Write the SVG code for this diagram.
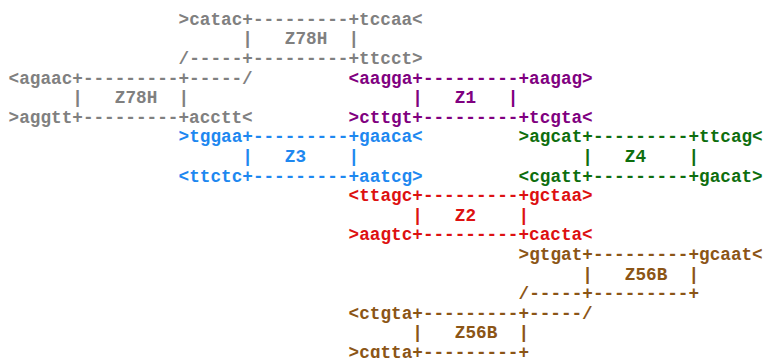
<svg xmlns="http://www.w3.org/2000/svg" width="767" height="358" viewBox="0 0 767 358">
<style>
text{font-family:"Liberation Mono","Courier New",monospace;font-size:17.7px;font-weight:bold;white-space:pre}
.gy{fill:#808080}.pu{fill:#800080}.bl{fill:#1e88f0}.gr{fill:#0e6e0e}.rd{fill:#dd1111}.br{fill:#8b5516}
</style>
<rect width="767" height="358" fill="#ffffff"/>
<g id="connectors"></g>
<g id="Z78H_top" class="gy">
<text xml:space="preserve" x="178.6" y="24.8">&gt;catac+---------+tccaa&lt;</text>
<text xml:space="preserve" x="242.35" y="44.4">|   Z78H  |</text>
<text xml:space="preserve" x="178.6" y="64">/-----+---------+ttcct&gt;</text>
</g>
<g id="Z78H_bottom" class="gy">
<text xml:space="preserve" x="8.6" y="83.6">&lt;agaac+---------+-----/</text>
<text xml:space="preserve" x="72.35" y="103.2">|   Z78H  |</text>
<text xml:space="preserve" x="8.6" y="122.8">&gt;aggtt+---------+acctt&lt;</text>
</g>
<g id="Z1" class="pu">
<text xml:space="preserve" x="348.6" y="83.6">&lt;aagga+---------+aagag&gt;</text>
<text xml:space="preserve" x="412.35" y="103.2">|   Z1   |</text>
<text xml:space="preserve" x="348.6" y="122.8">&gt;cttgt+---------+tcgta&lt;</text>
</g>
<g id="Z3" class="bl">
<text xml:space="preserve" x="178.6" y="142.4">&gt;tggaa+---------+gaaca&lt;</text>
<text xml:space="preserve" x="242.35" y="162">|   Z3    |</text>
<text xml:space="preserve" x="178.6" y="181.6">&lt;ttctc+---------+aatcg&gt;</text>
</g>
<g id="Z4" class="gr">
<text xml:space="preserve" x="518.6" y="142.4">&gt;agcat+---------+ttcag&lt;</text>
<text xml:space="preserve" x="582.35" y="162">|   Z4    |</text>
<text xml:space="preserve" x="518.6" y="181.6">&lt;cgatt+---------+gacat&gt;</text>
</g>
<g id="Z2" class="rd">
<text xml:space="preserve" x="348.6" y="201.2">&lt;ttagc+---------+gctaa&gt;</text>
<text xml:space="preserve" x="412.35" y="220.8">|   Z2    |</text>
<text xml:space="preserve" x="348.6" y="240.4">&gt;aagtc+---------+cacta&lt;</text>
</g>
<g id="Z56B_top" class="br">
<text xml:space="preserve" x="518.6" y="260">&gt;gtgat+---------+gcaat&lt;</text>
<text xml:space="preserve" x="582.35" y="279.6">|   Z56B  |</text>
<text xml:space="preserve" x="518.6" y="299.2">/-----+---------+</text>
</g>
<g id="Z56B_bottom" class="br">
<text xml:space="preserve" x="348.6" y="318.8">&lt;ctgta+---------+-----/</text>
<text xml:space="preserve" x="412.35" y="338.4">|   Z56B  |</text>
<text xml:space="preserve" x="348.6" y="358">&gt;cgtta+---------+</text>
</g>
</svg>
